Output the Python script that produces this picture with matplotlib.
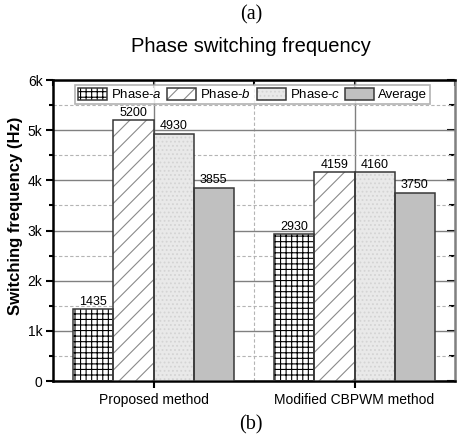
import numpy as np
import matplotlib.pyplot as plt
from matplotlib.ticker import MultipleLocator, FuncFormatter

plt.rcParams['font.family'] = ['Liberation Sans', 'DejaVu Sans']
plt.rcParams['mathtext.fontset'] = 'custom'
plt.rcParams['mathtext.it'] = 'Liberation Sans:italic'
plt.rcParams['mathtext.rm'] = 'Liberation Sans'
plt.rcParams['hatch.linewidth'] = 0.8

# data
methods = ['Proposed method', 'Modified CBPWM method']
series = ['Phase-$a$', 'Phase-$b$', 'Phase-$c$', 'Average']
phase_a = [1435, 2930]
phase_b = [5200, 4159]
phase_c = [4930, 4160]
average = [3855, 3750]
values = [phase_a, phase_b, phase_c, average]

# styles per series: face, hatch, hatch colour
styles = [
    ('white', '+++', 'black'),
    ('white', '//', '#8a8a8a'),
    ('#e9e9e9', '....', '#d4d4d4'),
    ('#c0c0c0', '', '#c0c0c0'),
]

fig = plt.figure(figsize=(4.62, 4.4), dpi=100)
ax = fig.add_axes([53 / 462, 59 / 440, 402 / 462, 301 / 440])

x = np.arange(len(methods))
w = 0.2
handles = []
for i, (vals, (fc, hatch, hc)) in enumerate(zip(values, styles)):
    pos = x + (i - 1.5) * w
    fill = ax.bar(pos, vals, w, color=fc, hatch=hatch, edgecolor=hc,
                  linewidth=0, zorder=3)
    edge = ax.bar(pos, vals, w, fill=False, edgecolor='#383838',
                  linewidth=1.1, zorder=4)
    for p, v in zip(pos, vals):
        ax.text(p, v + 30, str(v), ha='center', va='bottom', fontsize=9,
                zorder=5)
    handles.append((fill, edge))

ax.set_xlim(-0.5, 1.5)
ax.set_ylim(0, 6000)
ax.set_xticks(x)
ax.set_xticklabels(methods, fontsize=10)
ax.xaxis.set_minor_locator(MultipleLocator(0.5))
ax.yaxis.set_major_locator(MultipleLocator(1000))
ax.yaxis.set_minor_locator(MultipleLocator(500))
ax.yaxis.set_major_formatter(FuncFormatter(lambda v, p: '0' if v == 0 else f'{int(v / 1000)}k'))
ax.tick_params(axis='y', labelsize=10, pad=2.5)

# grids
ax.grid(which='major', color='#808080', linewidth=1.0, linestyle='-', zorder=0)
ax.grid(which='minor', color='#b4b4b4', linewidth=0.8, linestyle=(0, (3, 2)), zorder=0)
ax.set_axisbelow(True)

# spines and ticks
for s in ['left', 'bottom', 'top']:
    ax.spines[s].set_linewidth(1.8)
ax.spines['right'].set_linewidth(1.8)
ax.spines['right'].set_color('#808080')
ax.tick_params(which='major', direction='out', length=5, width=1.5,
               top=False, right=False)
ax.tick_params(which='minor', direction='out', length=3, width=1.5,
               top=False, right=False, bottom=False)

# inward ticks mirrored on the top and right edges
sec_y = ax.secondary_yaxis('right')
sec_y.spines['right'].set_visible(False)
sec_y.yaxis.set_major_locator(MultipleLocator(1000))
sec_y.yaxis.set_minor_locator(MultipleLocator(500))
sec_y.tick_params(which='major', direction='in', length=6, width=1.5,
                  labelright=False, color='black')
sec_y.tick_params(which='minor', direction='in', length=4, width=1.5,
                  color='black')
sec_x = ax.secondary_xaxis('top')
sec_x.spines['top'].set_visible(False)
sec_x.set_xticks(x)
sec_x.xaxis.set_minor_locator(MultipleLocator(0.5))
sec_x.tick_params(which='major', direction='in', length=6, width=1.5,
                  labeltop=False, color='black')
sec_x.tick_params(which='minor', direction='in', length=4, width=1.5,
                  color='black')

ax.set_ylabel('Switching frequency (Hz)', fontsize=12, fontweight='bold')
ax.yaxis.set_label_coords(-0.075, 0.55)

leg = ax.legend(handles, series, loc='upper center', bbox_to_anchor=(0.497, 0.992),
                ncol=4, fontsize=9.5, frameon=True, fancybox=False,
                handlelength=2.2, handleheight=1.0, columnspacing=0.4,
                handletextpad=0.3, borderpad=0.22, borderaxespad=0.2)
leg.get_frame().set_edgecolor('#a0a0a0')
leg.get_frame().set_linewidth(1.2)
leg.set_zorder(6)

fig.text(0.543, 0.966, '(a)', ha='center', va='center', fontsize=14.5,
         family='Liberation Serif')
fig.text(0.543, 0.895, 'Phase switching frequency', ha='center', va='center',
         fontsize=14.5)
fig.text(0.543, 0.034, '(b)', ha='center', va='center', fontsize=14.5,
         family='Liberation Serif')

fig.savefig('out.png', dpi=100)
